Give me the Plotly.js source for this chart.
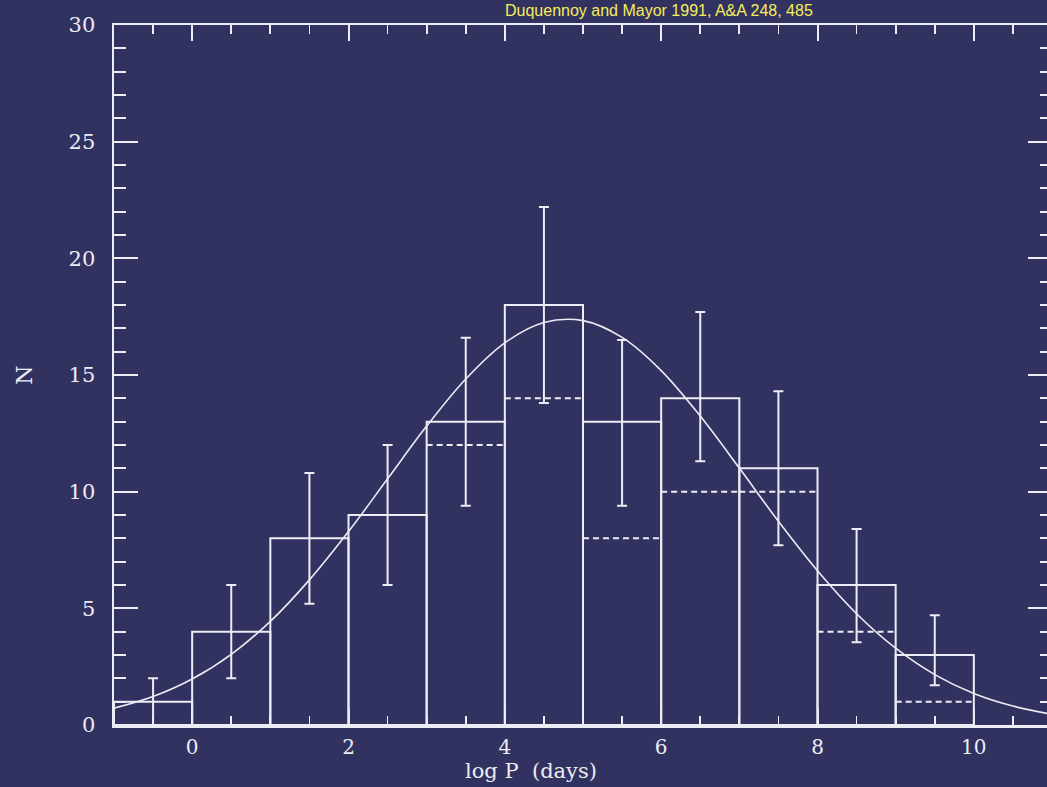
<!DOCTYPE html>
<html>
<head>
<meta charset="utf-8">
<script src="https://cdn.plot.ly/plotly-3.0.1.min.js"></script>
<style>
html,body{margin:0;padding:0;background:#323260;overflow:hidden;}
#chart{width:1052px;height:787px;}
</style>
</head>
<body>
<div id="chart"></div>
<script>
// Histogram bins (log P, days): bin centres and counts
const binCenters = [-0.5, 0.5, 1.5, 2.5, 3.5, 4.5, 5.5, 6.5, 7.5, 8.5, 9.5];
const counts     = [1, 4, 8, 9, 13, 18, 13, 14, 11, 6, 3];
// Dashed sub-sample levels (only bins 3..10)
const dashedCenters = [3.5, 4.5, 5.5, 6.5, 7.5, 8.5, 9.5];
const dashedCounts  = [12, 14, 8, 10, 10, 4, 1];
// Error bars (upper / lower extents)
const errUp   = [1.0, 2.0, 2.8, 3.0, 3.6, 4.2, 3.5, 3.7, 3.3, 2.4, 1.7];
const errDown = [1.0, 2.0, 2.8, 3.0, 3.6, 4.2, 3.6, 2.7, 3.3, 2.45, 1.3];
// Fitted curve points
const curveX = [-1, -0.5, 0, 0.5, 1, 1.5, 2, 2.5, 3, 3.5, 4, 4.5, 5, 5.5, 6, 6.5, 7, 7.5, 8, 8.5, 9, 9.5, 10, 10.5, 11];
const curveY = [0.72, 1.22, 1.97, 3.03, 4.44, 6.22, 8.29, 10.55, 12.81, 14.83, 16.38, 17.25, 17.33, 16.61, 15.19, 13.24, 11.01, 8.73, 6.61, 4.77, 3.29, 2.16, 1.35, 0.81, 0.46];
const xTickVals = [0, 2, 4, 6, 8, 10];
const yTickVals = [0, 5, 10, 15, 20, 25, 30];

const fg = '#ececf4';
const binWidth = 1;
const serif = 'DejaVu Serif, Liberation Serif, serif';

// Build dashed segments from the dashed arrays
const dX = [], dY = [];
dashedCenters.forEach((c, i) => {
  dX.push(c - binWidth/2, c + binWidth/2, null);
  dY.push(dashedCounts[i], dashedCounts[i], null);
});

const traces = [
  {
    type: 'bar', x: binCenters, y: counts, width: binWidth,
    marker: {color: 'rgba(0,0,0,0)', line: {color: fg, width: 2}},
    hoverinfo: 'skip'
  },
  {
    type: 'scatter', mode: 'lines', x: dX, y: dY,
    line: {color: fg, width: 2, dash: '6px,4px'}, hoverinfo: 'skip'
  },
  {
    type: 'scatter', mode: 'markers', x: binCenters, y: counts,
    marker: {opacity: 0, size: 1},
    error_y: {type: 'data', symmetric: false, array: errUp, arrayminus: errDown,
              color: fg, thickness: 2, width: 5},
    hoverinfo: 'skip'
  },
  {
    type: 'scatter', mode: 'lines', x: curveX, y: curveY,
    line: {color: fg, width: 1.6, shape: 'spline'}, hoverinfo: 'skip'
  }
];

const layout = {
  width: 1052, height: 787,
  margin: {l: 114, r: 0, t: 25, b: 62},
  paper_bgcolor: '#323260', plot_bgcolor: '#323260',
  showlegend: false,
  bargap: 0,
  xaxis: {
    range: [-1, 11], tickvals: xTickVals, ticks: 'inside', ticklen: 16, tickwidth: 2,
    tickcolor: fg, showline: true, linecolor: fg, linewidth: 2.5, mirror: 'ticks',
    showgrid: false, zeroline: false, tickfont: {family: serif, size: 20, color: fg}, ticklabelstandoff: 2,
    minor: {dtick: 0.5, tick0: 0, ticks: 'inside', ticklen: 9, tickcolor: fg, tickwidth: 1.8, showgrid: false}
  },
  yaxis: {
    range: [0, 30], tickvals: yTickVals, ticks: 'inside', ticklen: 24, tickwidth: 2,
    tickcolor: fg, showline: true, linecolor: fg, linewidth: 2.5, mirror: 'ticks',
    showgrid: false, zeroline: false, tickfont: {family: serif, size: 21, color: fg}, ticklabelstandoff: 12,
    minor: {dtick: 1, tick0: 0, ticks: 'inside', ticklen: 12, tickcolor: fg, tickwidth: 1.8, showgrid: false},
    title: {text: 'N', font: {family: serif, size: 22, color: fg}, standoff: 30}
  },
  annotations: [
    {
      text: 'log P  (days)',
      xref: 'paper', yref: 'paper', x: 0.445, y: 0, yshift: -46,
      xanchor: 'center', yanchor: 'middle', showarrow: false,
      font: {family: serif, size: 21, color: fg}
    },
    {
      text: 'Duquennoy and Mayor 1991, A&amp;A 248, 485',
      xref: 'paper', yref: 'paper', x: 0.415, y: 1.0, yshift: 4,
      xanchor: 'left', yanchor: 'bottom', showarrow: false,
      font: {family: 'Liberation Sans, Arial, sans-serif', size: 16, color: '#f5ee5a'}
    }
  ]
};

Plotly.newPlot('chart', traces, layout, {displayModeBar: false, staticPlot: true});
</script>
</body>
</html>
